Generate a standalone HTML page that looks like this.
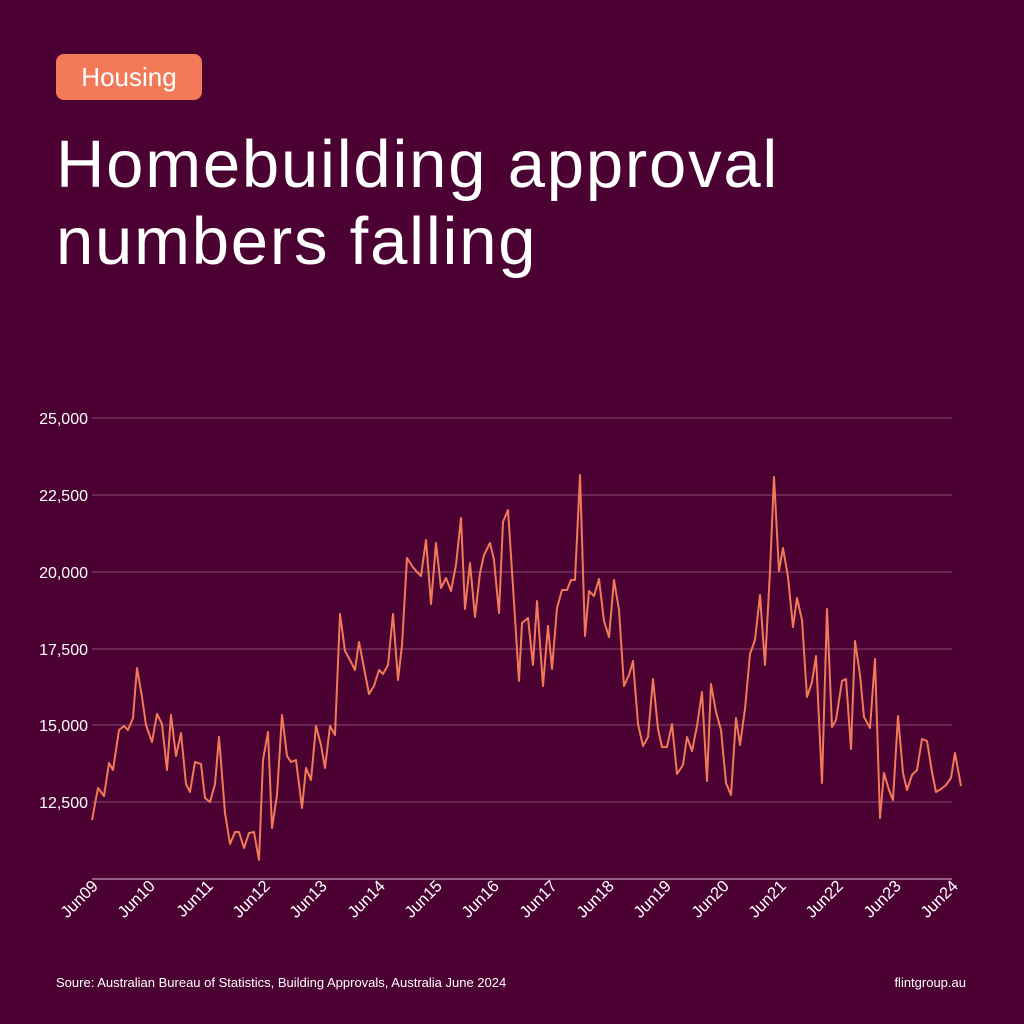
<!DOCTYPE html>
<html><head><style>
body{margin:0;width:1024px;height:1024px;background:#4b0132;overflow:hidden;font-family:"Liberation Sans",sans-serif;color:#fff;position:relative}
.badge{position:absolute;left:56px;top:54px;width:146px;height:46px;background:#f27a58;border-radius:8px;font-size:26px;line-height:46px;text-align:center;color:#fff}
h1{position:absolute;left:56px;top:126px;margin:0;font-weight:normal;font-size:67px;line-height:77px;letter-spacing:1.8px}
.foot{position:absolute;top:975px;font-size:13px}
</style></head><body>
<div class="badge">Housing</div>
<h1>Homebuilding approval<br>numbers falling</h1>
<svg width="1024" height="1024" style="position:absolute;left:0;top:0">
<g stroke="#8a4a72" stroke-width="1">
<line x1="92" y1="418" x2="952" y2="418"/><line x1="92" y1="495" x2="952" y2="495"/>
<line x1="92" y1="572" x2="952" y2="572"/><line x1="92" y1="649" x2="952" y2="649"/>
<line x1="92" y1="725" x2="952" y2="725"/><line x1="92" y1="802" x2="952" y2="802"/>
</g>
<line x1="92" y1="879" x2="952" y2="879" stroke="#b07ca0" stroke-width="1.5"/>
<g fill="#fff" font-size="16" text-anchor="end">
<text x="88" y="424">25,000</text><text x="88" y="501">22,500</text><text x="88" y="578">20,000</text>
<text x="88" y="655">17,500</text><text x="88" y="731">15,000</text><text x="88" y="808">12,500</text>
</g>
<g fill="#fff" font-size="16.5" text-anchor="end">
<text transform="translate(99,887) rotate(-45)">Jun09</text>
<text transform="translate(156,887) rotate(-45)">Jun10</text>
<text transform="translate(214,887) rotate(-45)">Jun11</text>
<text transform="translate(271,887) rotate(-45)">Jun12</text>
<text transform="translate(328,887) rotate(-45)">Jun13</text>
<text transform="translate(386,887) rotate(-45)">Jun14</text>
<text transform="translate(443,887) rotate(-45)">Jun15</text>
<text transform="translate(500,887) rotate(-45)">Jun16</text>
<text transform="translate(558,887) rotate(-45)">Jun17</text>
<text transform="translate(615,887) rotate(-45)">Jun18</text>
<text transform="translate(672,887) rotate(-45)">Jun19</text>
<text transform="translate(730,887) rotate(-45)">Jun20</text>
<text transform="translate(787,887) rotate(-45)">Jun21</text>
<text transform="translate(844,887) rotate(-45)">Jun22</text>
<text transform="translate(902,887) rotate(-45)">Jun23</text>
<text transform="translate(959,887) rotate(-45)">Jun24</text>
</g>
<polyline fill="none" stroke="#f27a58" stroke-width="2" stroke-linejoin="round" points="92,820 98,788 104,796 109,763 113,770 119,730 124,726 128,730 133,718 137,668 142,697 146,725 152,742 157,714 162,724 167,770 171,715 176,756 181,733 186,784 190,792 195,762 201,764 205,798 210,802 215,784 219,737 225,813 230,844 235,832 239,832 244,848 249,833 254,832 259,860 263,760 268,732 272,828 277,795 282,715 287,756 291,762 296,760 302,808 306,768 311,780 316,726 321,745 325,768 330,726 335,735 340,614 345,651 350,660 355,670 359,642 364,668 369,694 374,686 379,670 383,674 388,665 393,614 398,680 402,645 407,558 412,566 417,572 421,576 426,540 431,604 436,543 441,588 446,578 451,591 456,565 461,518 465,609 470,563 475,617 480,573 484,555 490,543 494,560 499,613 503,522 508,510 514,602 519,681 522,623 528,618 533,665 537,601 543,686 548,626 552,669 557,608 562,590 567,590 571,580 575,580 580,475 585,636 589,591 594,596 599,579 604,621 609,637 614,580 619,610 624,686 629,675 633,661 638,724 643,746 648,737 653,679 658,729 662,747 667,747 672,724 677,774 683,765 687,737 692,751 697,726 702,692 707,781 711,684 716,712 721,730 726,783 731,795 736,718 740,745 745,709 750,654 755,640 760,595 765,665 770,571 774,477 779,571 783,548 788,577 793,627 797,598 802,620 807,697 812,682 816,656 822,783 827,609 832,727 836,720 842,681 846,679 851,749 855,641 860,675 864,717 870,728 875,659 880,818 884,773 889,790 893,800 898,716 903,773 907,790 912,775 917,770 922,739 927,741 932,772 936,792 941,789 946,785 951,778 955,753 961,786"/>
</svg>
<div class="foot" style="left:56px">Soure: Australian Bureau of Statistics, Building Approvals, Australia June 2024</div>
<div class="foot" style="right:58px">flintgroup.au</div>
</body></html>
